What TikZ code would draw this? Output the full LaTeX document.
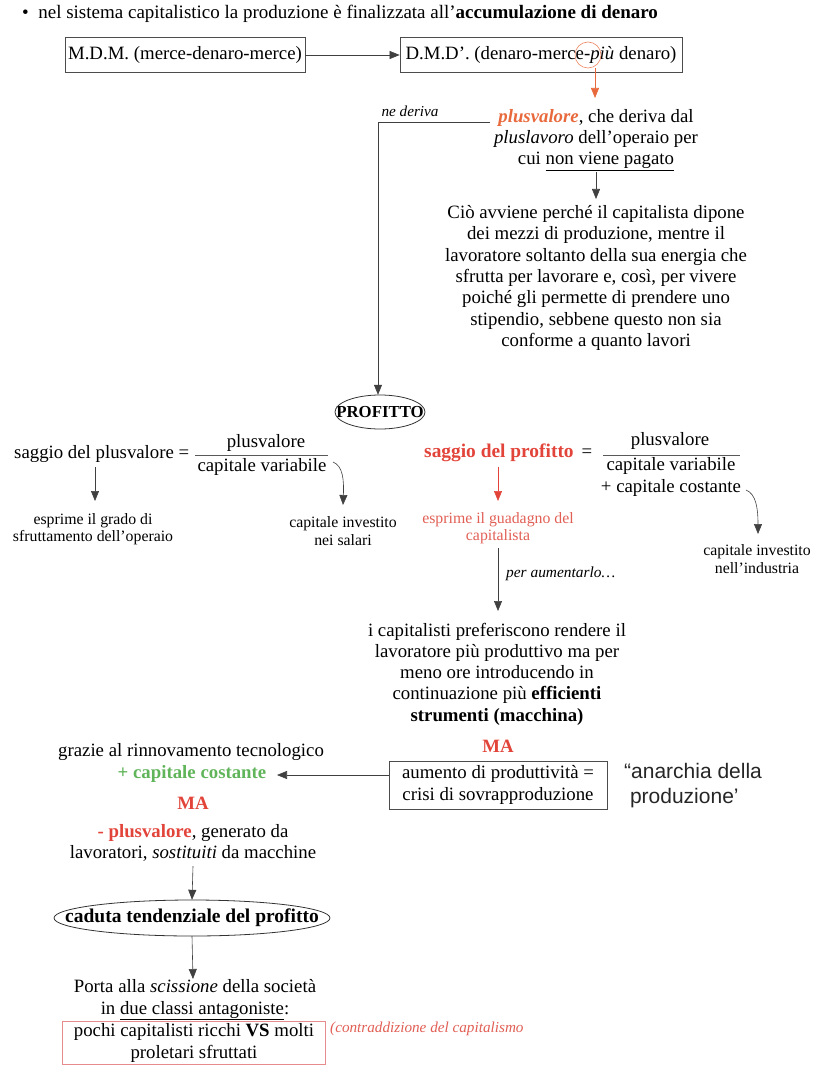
\documentclass[tikz,border=0pt]{standalone}
\usepackage{fontspec}
\setmainfont{Liberation Serif}
\newfontfamily\handfont{Liberation Sans}
\usetikzlibrary{arrows.meta,shapes.geometric}
\definecolor{myred}{RGB}{226,68,58}
\definecolor{myorange}{RGB}{232,105,60}
\definecolor{mypink}{RGB}{225,95,85}
\definecolor{mygreen}{RGB}{96,180,90}
\definecolor{boxred}{RGB}{230,140,140}
\begin{document}
\begin{tikzpicture}[x=1pt,y=-1pt,
  txt/.style={align=center,font=\fontsize{18.8}{21.3}\selectfont,inner sep=0pt},
  smalltxt/.style={align=center,font=\fontsize{15.8}{17.5}\selectfont,inner sep=0pt},
  boxed/.style={draw=black!70,line width=0.7pt,inner xsep=4pt,inner ysep=5pt},
  arr/.style={-{Triangle[length=10pt,width=8pt]},draw=black!75,line width=0.6pt},
  conn/.style={draw=black!65,line width=0.6pt},
  oval/.style={draw=black!80,line width=0.8pt}]
\useasboundingbox (0,0) rectangle (828,1086);

% header
\node[anchor=west,inner sep=0pt,font=\fontsize{19}{20}\selectfont] (head) at (22,14) {\textbullet\ \ nel sistema capitalistico la produzione è finalizzata all’\textbf{accumulazione di denaro}};

\node[boxed,txt,minimum width=240pt,minimum height=35pt] (mdm) at (185,55) {M.D.M. (merce-denaro-merce)};
\node[boxed,txt,minimum width=282pt,minimum height=35pt] (dmd) at (541,55) {D.M.D’. (denaro-merce-\textit{più} denaro)};
\draw[arr] (mdm.east) -- (dmd.west);

\node[circle,draw=myorange!80,line width=0.6pt,minimum size=26pt,inner sep=0pt] (cpiu) at (588,55) {};
\coordinate (ptop) at (595,98);
\draw[-{Triangle[length=10pt,width=8pt]},draw=myorange,color=myorange,line width=0.6pt] (cpiu.south -| ptop) -- (ptop);

\node[txt] (plus) at (596,140) {\textcolor{myorange}{\textbf{\textit{plusvalore}}}, che deriva dal\\ \textit{pluslavoro} dell’operaio per\\ cui \underline{non viene pagato}};
\node[inner sep=0pt,font=\fontsize{15.2}{15}\selectfont\itshape] (nederiva) at (410,111) {ne deriva};

\node[inner sep=0pt,minimum width=90pt,minimum height=34pt,font=\fontsize{16.8}{18}\selectfont\bfseries] (profitto) at (380,412) {PROFITTO};
\draw[oval] (profitto.center) ellipse [x radius=45pt, y radius=17pt];
\coordinate (c1) at (490,122);
\coordinate (c2) at (378,122);
\draw[arr] (c1) -- (c2) -- (profitto.north -| c2);

\node[txt] (cio) at (596,278) {Ciò avviene perché il capitalista dipone\\ dei mezzi di produzione, mentre il\\ lavoratore soltanto della sua energia che\\ sfrutta per lavorare e, così, per vivere\\ poiché gli permette di prendere uno\\ stipendio, sebbene questo non sia\\ conforme a quanto lavori};
\draw[arr] (596,172) -- (596,199);

% left formula
\node[txt,anchor=west] (sp) at (14,454) {saggio del plusvalore =};
\node[txt] (spn) at (266,443) {plusvalore};
\node[txt] (spd) at (262,467) {capitale variabile};
\draw[conn] (195,455) -- (328,455);
\node[smalltxt] (esp1) at (93,529) {esprime il grado di\\ sfruttamento dell’operaio};
\draw[arr] (95,467) -- (95,501);
\node[smalltxt] (civ1) at (343,531) {capitale investito\\ nei salari};
\coordinate (cv1) at (333,462);
\draw[arr] (cv1) .. controls (343,466) and (344,480) .. (343,505);

% right formula
\node[txt,anchor=west,text=myred,font=\fontsize{19.4}{21.3}\selectfont\bfseries] (spr) at (424,453) {saggio del profitto};
\node[txt] (eq2) at (587,453) {=};
\node[txt] (sprn) at (670,441) {plusvalore};
\draw[conn] (603,455) -- (740,455);
\node[txt] (sprd) at (671,477) {capitale variabile\\ + capitale costante};
\draw[-{Triangle[length=10pt,width=8pt]},draw=myred,color=myred,line width=0.6pt] (498,467) -- (498,501);
\node[smalltxt,text=mypink] (esp2) at (498,528) {esprime il guadagno del\\ capitalista};
\coordinate (cv2) at (746,490);
\draw[arr] (cv2) .. controls (756,494) and (758,508) .. (758,534);
\node[smalltxt] (civ2) at (757,559) {capitale investito\\ nell’industria};

\draw[arr] (498,548) -- (498,611);
\node[inner sep=0pt,font=\fontsize{15.4}{15}\selectfont\itshape,anchor=west] (aum) at (506,574) {per aumentarlo…};

\node[txt] (cap) at (497,674) {i capitalisti preferiscono rendere il\\ lavoratore più produttivo ma per\\ meno ore introducendo in\\ continuazione più \textbf{efficienti}\\ \textbf{strumenti (macchina)}};
\node[txt,text=myred,font=\fontsize{18.8}{21.3}\selectfont\bfseries] (ma1) at (498,746) {MA};
\node[boxed,txt,minimum width=218pt,minimum height=48pt] (crisi) at (498,785) {aumento di produttività =\\ crisi di sovrapproduzione};

\node[txt] (grazie) at (191,752) {grazie al rinnovamento tecnologico};
\node[txt,text=mygreen,font=\fontsize{18.8}{21.3}\selectfont\bfseries] (cc) at (192,774) {+ capitale costante};
\coordinate (cct) at (277,775);
\draw[arr] (crisi.west |- 0,775) -- (cct);

\node[inner sep=0pt,font=\handfont\fontsize{21}{25}\selectfont,align=left,anchor=north west,text=black!85] (anar) at (624,763) {“anarchia della\\ \ produzione’};

\node[txt,text=myred,font=\fontsize{18.8}{21.3}\selectfont\bfseries] (ma2) at (193,803) {MA};
\node[txt] (meno) at (193,843) {\textcolor{myred}{\textbf{- plusvalore}}, generato da\\ lavoratori, \textit{sostituiti} da macchine};

\node[inner sep=0pt,minimum width=276pt,minimum height=36pt,font=\fontsize{19.5}{20}\selectfont\bfseries] (caduta) at (192,918) {caduta tendenziale del profitto};
\draw[oval] (caduta.center) ellipse [x radius=138pt, y radius=18pt];
\draw[arr] (193,866) -- (caduta.north);
\node[txt] (porta) at (195,1000) {Porta alla \textit{scissione} della società\\ in \underline{due classi antagoniste}:};
\draw[arr] (caduta.south) -- (193,979);
\node[draw=boxred,line width=0.7pt,txt,minimum width=263pt,minimum height=43pt] (classi) at (194,1043) {pochi capitalisti ricchi \textbf{VS} molti\\ proletari sfruttati};
\node[inner sep=0pt,anchor=west,text=mypink,font=\fontsize{15.2}{15}\selectfont\itshape] (contr) at (330,1029) {(contraddizione del capitalismo};
\end{tikzpicture}
\end{document}
